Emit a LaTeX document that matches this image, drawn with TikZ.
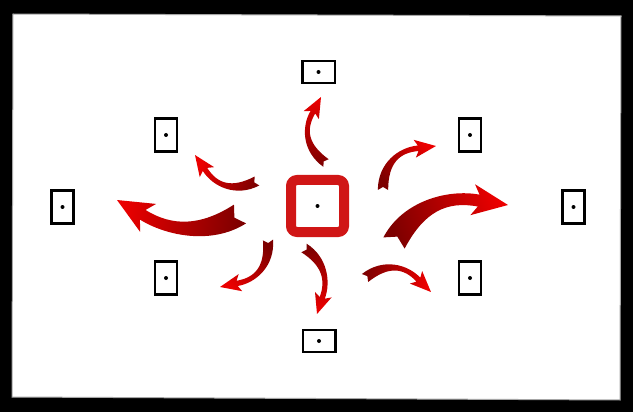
\documentclass[tikz,border=0pt]{standalone}
\usetikzlibrary{calc}
\definecolor{adark}{RGB}{125,0,0}
\definecolor{ared}{RGB}{235,0,0}
\definecolor{sqred}{RGB}{208,22,22}
\tikzset{
  boxbase/.style={rectangle, draw=black, line width=2.5, fill=white, inner sep=0pt},
  vbox/.style={boxbase, minimum width=22, minimum height=33},
  hbox/.style={boxbase, minimum width=32.5, minimum height=22},
  centerbox/.style={rectangle, draw=sqred, line width=10, rounded corners=6, fill=white, minimum width=53, minimum height=52, inner sep=0pt},
  dotmark/.style={fill=black}
}
\newcommand\redarr[8]{%
  \pgfmathsetmacro\arot{atan2(-(#4-#2),#3-#1)}%
  \pgfmathsetmacro\alen{veclen(#3-#1,#4-#2)}%
  \pgfmathsetmacro\aphi{atan2(-0.56*#5,0.22)}%
  \pgfmathsetmacro\aalp{atan2(1.2*#5,0.25)}%
  \pgfmathsetmacro\ashade{\arot-90}%
  \begin{scope}[shift={(#1,#2)}, rotate=\arot, x=\alen pt, y=\alen pt]
    \coordinate (N) at (0.78,{0.56*#5});
    \coordinate (C1) at (0.25,{1.2*#5});
    \coordinate (C2) at (0.55,{1.2*#5});
    \shade[top color=ared, bottom color=adark, shading angle=\ashade]
      ($(0,0)+(\aalp+90:#6)$) -- ($(0,0)+(\aalp:0.6*#6)$) -- ($(0,0)+(\aalp-90:#6)$)
      .. controls ($(C1)+(\aalp-90:#6)$) and ($(C2)+(\aphi-90:#7)$) .. ($(N)+(\aphi-90:#7)$)
      -- ($(N)+(\aphi-90:#8)+(\aphi:-0.05)$) -- (1,0) -- ($(N)+(\aphi+90:#8)+(\aphi:-0.05)$)
      -- ($(N)+(\aphi+90:#7)$)
      .. controls ($(C2)+(\aphi+90:#7)$) and ($(C1)+(\aalp+90:#6)$) .. ($(0,0)+(\aalp+90:#6)$) -- cycle;
  \end{scope}}
\begin{document}
\begin{tikzpicture}[x=1pt, y=-1pt]
  \useasboundingbox (0,0) rectangle (633,412);
  \fill[black] (0,0) rectangle (633,412);
  \filldraw[fill=white, draw=gray!70, line width=1] (13,14) -- (621,16) -- (620,400) -- (12,397) -- cycle;

  \node[hbox] (top) at (318.5,72) {};
  \node[hbox] (bottom) at (319,341) {};
  \node[vbox] (left) at (62.5,207) {};
  \node[vbox] (right) at (573.5,207) {};
  \node[vbox] (lefttop) at (166,135) {};
  \node[vbox] (leftbottom) at (166,278) {};
  \node[vbox] (righttop) at (470,135) {};
  \node[vbox] (rightbottom) at (470,278) {};
  \node[centerbox] (c) at (317.5,206) {};
  \foreach \n in {top,bottom,left,right,lefttop,leftbottom,righttop,rightbottom,c}
    \fill[dotmark] (\n.center) circle (2);

  \redarr{326}{163}{321}{97}{0.25}{0.07}{0.04}{0.13}
  \redarr{257}{181}{195}{155}{0.25}{0.075}{0.04}{0.13}
  \redarr{240}{214}{117}{200}{0.17}{0.09}{0.045}{0.13}
  \redarr{383}{190}{436}{146}{0.25}{0.075}{0.04}{0.13}
  \redarr{394}{243}{508}{205}{0.2}{0.1}{0.05}{0.13}
  \redarr{268}{240}{220}{287}{0.25}{0.075}{0.04}{0.13}
  \redarr{304}{248}{317}{314}{0.22}{0.075}{0.04}{0.13}
  \redarr{365}{278}{431}{292}{0.25}{0.075}{0.04}{0.13}
\end{tikzpicture}
\end{document}
